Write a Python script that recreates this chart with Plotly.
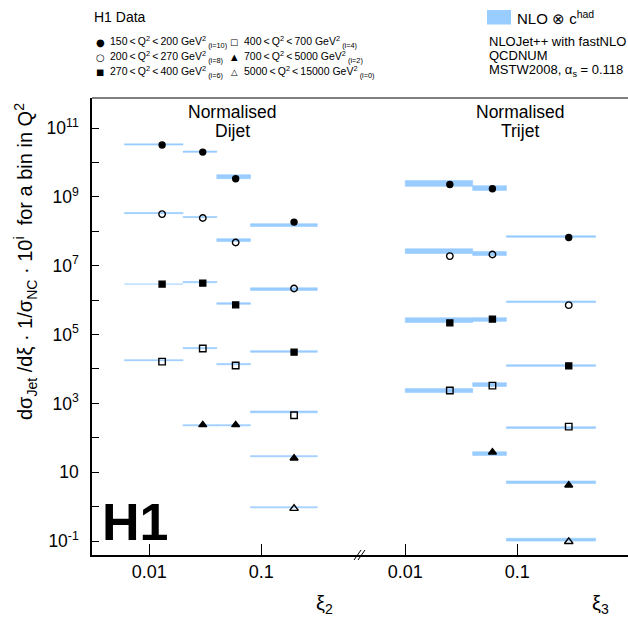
import plotly.graph_objects as go

# ---------------- data ----------------
q2_labels = ["150 < Q<sup>2</sup> < 200 GeV<sup>2</sup>",
             "200 < Q<sup>2</sup> < 270 GeV<sup>2</sup>",
             "270 < Q<sup>2</sup> < 400 GeV<sup>2</sup>",
             "400 < Q<sup>2</sup> < 700 GeV<sup>2</sup>",
             "700 < Q<sup>2</sup> < 5000 GeV<sup>2</sup>",
             "5000 < Q<sup>2</sup> < 15000 GeV<sup>2</sup>"]
exponents = [10, 8, 6, 4, 2, 0]

dijet_bin_lo = [0.006, 0.02, 0.04, 0.08]
dijet_bin_hi = [0.02, 0.04, 0.08, 0.316]
dijet_xi = [0.013, 0.030, 0.059, 0.196]

trijet_bin_lo = [0.01, 0.04, 0.08]
trijet_bin_hi = [0.04, 0.08, 0.5]
trijet_xi = [0.025, 0.060, 0.288]

# normalised cross sections (before multiplying by 10^i)
dijet_i10 = [3.21, 2.00, 0.336, 0.0185]
dijet_i8 = [3.16, 2.42, 0.472, 0.0217]
dijet_i6 = [2.92, 3.12, 0.730, 0.0308]
dijet_i4 = [1.64, 3.92, 1.26, 0.0454]
dijet_i2 = [None, 2.37, 2.37, 0.255]
dijet_i0 = [None, None, None, 0.887]

dijet_nlo_i10 = [3.33, 2.05, 0.384, 0.0151]
dijet_nlo_i8 = [3.38, 2.59, 0.555, 0.0209]
dijet_nlo_i6 = [2.98, 3.33, 0.796, 0.0321]
dijet_nlo_i4 = [1.80, 4.03, 1.38, 0.0566]
dijet_nlo_i2 = [None, 2.32, 2.32, 0.292]
dijet_nlo_i0 = [None, None, None, 0.955]

dijet_unc_i10 = [0.040, 0.045, 0.14, 0.10]
dijet_unc_i8 = [0.040, 0.040, 0.10, 0.09]
dijet_unc_i6 = [0.020, 0.040, 0.055, 0.055]
dijet_unc_i4 = [0.035, 0.040, 0.040, 0.065]
dijet_unc_i2 = [None, 0.040, 0.040, 0.040]
dijet_unc_i0 = [None, None, None, 0.035]

trijet_i10 = [0.229, 0.172, 0.00661]
trijet_i8 = [0.190, 0.212, 0.00716]
trijet_i6 = [0.219, 0.281, 0.0123]
trijet_i4 = [0.236, 0.329, 0.0212]
trijet_i2 = [None, 0.381, 0.0419]
trijet_i0 = [None, None, 0.0962]

trijet_nlo_i10 = [0.245, 0.180, 0.00706]
trijet_nlo_i8 = [0.265, 0.226, 0.00893]
trijet_nlo_i6 = [0.262, 0.273, 0.0126]
trijet_nlo_i4 = [0.236, 0.352, 0.0198]
trijet_nlo_i2 = [None, 0.348, 0.0512]
trijet_nlo_i0 = [None, None, 0.110]

trijet_unc_i10 = [0.21, 0.17, 0.055]
trijet_unc_i8 = [0.17, 0.14, 0.055]
trijet_unc_i6 = [0.17, 0.13, 0.055]
trijet_unc_i4 = [0.14, 0.13, 0.055]
trijet_unc_i2 = [None, 0.13, 0.09]
trijet_unc_i0 = [None, None, 0.10]

y_tick_exp = list(range(-1, 12))
y_minor_exp = list(range(-2, 12))
x_major = [0.01, 0.1]
x_minor_left = [0.006, 0.007, 0.008, 0.009, 0.02, 0.03, 0.04, 0.05, 0.06, 0.07, 0.08, 0.09, 0.2, 0.3, 0.4]
x_minor_right = [0.02, 0.03, 0.04, 0.05, 0.06, 0.07, 0.08, 0.09, 0.2, 0.3, 0.4, 0.5]

# ---------------- style ----------------
FONT = "Liberation Sans, Arial, Helvetica, sans-serif"
SYMFONT = "DejaVu Sans, sans-serif"
BAND = "#99CCFF"
W, H = 628, 626
L, R, T, B = 92, 0, 98, 71
PW, PH = W - L - R, H - T - B
XL_RANGE = [-2.512, -0.119]
XR_RANGE = [-2.404, -0.0116]
Y_RANGE = [-1.404, 11.872]


def px(x):
    return (x - L) / PW


def py(y):
    return (H - B - y) / PH


symbols = ["circle", "circle-open", "square", "square-open", "triangle-up", "triangle-up-open"]
sym_glyphs = ["\u25cf", "\u25cb", "\u25a0", "\u25a1", "\u25b2", "\u25b3"]
sym_sizes = [10, 10, 8.5, 8.5, 8.5, 8.5]
msizes = [6, 6.5, 6, 6.5, 7, 7.5]

dijet_sets = [dijet_i10, dijet_i8, dijet_i6, dijet_i4, dijet_i2, dijet_i0]
dijet_nlo = [dijet_nlo_i10, dijet_nlo_i8, dijet_nlo_i6, dijet_nlo_i4, dijet_nlo_i2, dijet_nlo_i0]
dijet_unc = [dijet_unc_i10, dijet_unc_i8, dijet_unc_i6, dijet_unc_i4, dijet_unc_i2, dijet_unc_i0]
trijet_sets = [trijet_i10, trijet_i8, trijet_i6, trijet_i4, trijet_i2, trijet_i0]
trijet_nlo = [trijet_nlo_i10, trijet_nlo_i8, trijet_nlo_i6, trijet_nlo_i4, trijet_nlo_i2, trijet_nlo_i0]
trijet_unc = [trijet_unc_i10, trijet_unc_i8, trijet_unc_i6, trijet_unc_i4, trijet_unc_i2, trijet_unc_i0]

fig = go.Figure()


def add_bands(xa, lo, hi, nlo_sets, unc_sets):
    xs, ys = [], []
    for e, vals, uncs in zip(exponents, nlo_sets, unc_sets):
        for a, b, v, u in zip(lo, hi, vals, uncs):
            if v is None:
                continue
            s = 10 ** e
            y0, y1 = v * s / (1 + u), v * s * (1 + u)
            xs += [a, b, b, a, a, None]
            ys += [y0, y0, y1, y1, y0, None]
    fig.add_trace(go.Scatter(x=xs, y=ys, xaxis=xa, yaxis="y", mode="lines",
                             fill="toself", fillcolor=BAND,
                             line=dict(color=BAND, width=0.6),
                             showlegend=False, hoverinfo="skip"))


add_bands("x", dijet_bin_lo, dijet_bin_hi, dijet_nlo, dijet_unc)
add_bands("x2", trijet_bin_lo, trijet_bin_hi, trijet_nlo, trijet_unc)


def add_points(xa, xi, sets):
    for e, vals, sym, ms in zip(exponents, sets, symbols, msizes):
        xx = [x for x, v in zip(xi, vals) if v is not None]
        yy = [v * 10 ** e for v in vals if v is not None]
        fig.add_trace(go.Scatter(x=xx, y=yy, xaxis=xa, yaxis="y", mode="markers",
                                 marker=dict(symbol=sym, size=ms, color="black",
                                             line=dict(color="black", width=1.4)),
                                 showlegend=False))


add_points("x", dijet_xi, dijet_sets)
add_points("x2", trijet_xi, trijet_sets)

# ---------------- legend (manual) ----------------
annotations = []
leg_rows = [42, 57, 72]
leg_cols = [(100, 108), (234, 242)]
for k in range(6):
    col, row = divmod(k, 3)
    mx, tx = leg_cols[col]
    annotations.append(dict(x=px(mx), y=py(leg_rows[row]), xref="paper", yref="paper",
                            xanchor="center", yanchor="middle", showarrow=False,
                            text=sym_glyphs[k],
                            font=dict(family=SYMFONT, size=sym_sizes[k], color="black")))
    annotations.append(dict(x=px(tx), y=py(leg_rows[row]), xref="paper", yref="paper",
                            xanchor="left", yanchor="middle", showarrow=False,
                            text=q2_labels[k].replace(" < ", "\u2009<\u2009")
                            + f"\u2009<sub>(i={exponents[k]})</sub>",
                            font=dict(family=FONT, size=10.5, color="black")))

annotations.append(dict(x=px(92), y=py(17), xref="paper", yref="paper", xanchor="left",
                        yanchor="middle", showarrow=False, text="H1 Data",
                        font=dict(family=FONT, size=14, color="black")))

# NLO legend
annotations.append(dict(x=px(515), y=py(18), xref="paper", yref="paper", xanchor="left",
                        yanchor="middle", showarrow=False, text="NLO \u2297 c<sup>had</sup>",
                        font=dict(family=FONT, size=15, color="black")))
for txt, yy in [("NLOJet++ with fastNLO", 41.5), ("QCDNUM", 55.5), ("MSTW2008, \u03b1<sub>s</sub> = 0.118", 70.5)]:
    annotations.append(dict(x=px(487), y=py(yy), xref="paper", yref="paper", xanchor="left",
                            yanchor="middle", showarrow=False, text=txt,
                            font=dict(family=FONT, size=13, color="black")))

# panel labels
for cx, words in [(232, ["Normalised", "Dijet"]), (520, ["Normalised", "Trijet"])]:
    for w_, yy in zip(words, [112.5, 131]):
        annotations.append(dict(x=px(cx), y=py(yy), xref="paper", yref="paper", xanchor="center",
                                yanchor="middle", showarrow=False, text=w_,
                                font=dict(family=FONT, size=17.5, color="black")))

# H1 logo
annotations.append(dict(x=px(135), y=py(522), xref="paper", yref="paper", xanchor="center",
                        yanchor="middle", showarrow=False, text="<b>H1</b>",
                        font=dict(family=FONT, size=52, color="black")))

# axis titles
annotations.append(dict(x=px(25), y=py(262), xref="paper", yref="paper", xanchor="center",
                        yanchor="middle", showarrow=False, textangle=-90,
                        text="d\u03c3<sub>Jet</sub> /d\u03be \u00b7 1/\u03c3<sub>NC</sub> \u00b7 10<sup>i</sup>  for a bin in Q<sup>2</sup>",
                        font=dict(family=FONT, size=20, color="black")))
for cx, t in [(324, "\u03be<sub>2</sub>"), (600, "\u03be<sub>3</sub>")]:
    annotations.append(dict(x=px(cx), y=py(604), xref="paper", yref="paper", xanchor="center",
                            yanchor="middle", showarrow=False, text=t,
                            font=dict(family=FONT, size=20, color="black")))

shapes = [
    dict(type="rect", xref="paper", yref="paper", x0=px(487), x1=px(511), y0=py(24.5), y1=py(10),
         fillcolor=BAND, line=dict(width=0)),
    dict(type="line", xref="paper", yref="paper", x0=0, x1=1, y0=1, y1=1,
         line=dict(color="#555555", width=1.6)),
    dict(type="line", xref="paper", yref="paper", x0=px(354), x1=px(361), y0=py(560), y1=py(550),
         line=dict(color="black", width=1)),
    dict(type="line", xref="paper", yref="paper", x0=px(358), x1=px(365), y0=py(560), y1=py(550),
         line=dict(color="black", width=1)),
]


def ylab(e):
    if e % 2 == 0:
        return ""
    if e == 1:
        return "10"
    return f"10<sup>{e}</sup>"


xcommon = dict(type="log", showline=True, linecolor="black", linewidth=1.5, ticks="inside",
               ticklen=11, tickwidth=1, tickcolor="black", showgrid=False, zeroline=False,
               tickmode="array", tickvals=x_major, ticktext=["0.01", "0.1"], anchor="y",
               automargin=False, tickfont=dict(family=FONT, size=18, color="black"))
xminor = dict(type="log", showline=False, ticks="inside", ticklen=6, tickwidth=1,
              tickcolor="black", showgrid=False, zeroline=False, showticklabels=False,
              tickmode="array", anchor="y", automargin=False)

fig.update_layout(
    width=W, height=H, margin=dict(l=L, r=R, t=T, b=B, pad=0, autoexpand=False),
    paper_bgcolor="white", plot_bgcolor="rgba(0,0,0,0)", showlegend=False,
    xaxis=dict(domain=[0, px(360)], range=XL_RANGE, **xcommon),
    xaxis2=dict(domain=[px(360), 1], range=XR_RANGE, **xcommon),
    xaxis4=dict(overlaying="x", range=XL_RANGE, tickvals=x_minor_left, **xminor),
    xaxis5=dict(overlaying="x2", range=XR_RANGE, tickvals=x_minor_right, **xminor),
    yaxis=dict(type="log", range=Y_RANGE, domain=[0, 1], anchor="x",
               showline=True, linecolor="black", linewidth=1.5, ticks="inside", ticklen=7,
               tickwidth=1, tickcolor="black", showgrid=False, zeroline=False, automargin=False,
               tickmode="array", tickvals=[10.0 ** e for e in y_tick_exp],
               ticktext=[ylab(e) for e in y_tick_exp], ticklabelstandoff=8,
               tickfont=dict(family=FONT, size=17.5, color="black")),
    yaxis2=dict(type="log", range=Y_RANGE, overlaying="y", anchor="x", side="left",
                showline=False, ticks="inside", ticklen=3.5, tickwidth=1, tickcolor="black",
                showgrid=False, zeroline=False, showticklabels=False, automargin=False,
                tickmode="array", tickvals=[5 * 10.0 ** e for e in y_minor_exp]),
    annotations=annotations, shapes=shapes,
)

fig.write_html("out.html", config={"displayModeBar": False},
               post_script="document.body.style.margin='0';document.body.style.padding='0';")
